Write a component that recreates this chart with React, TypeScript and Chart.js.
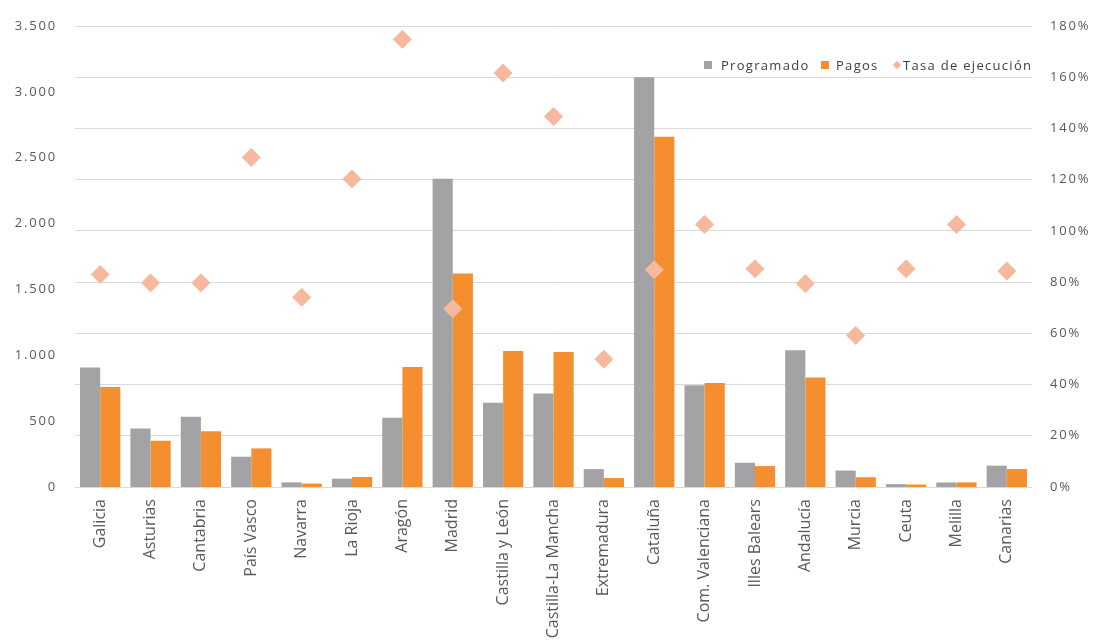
import React, { useEffect, useRef } from "react";
import { Chart, registerables } from "chart.js";

Chart.register(...registerables);

// Comunidades autónomas
const regiones = [
  "Galicia",
  "Asturias",
  "Cantabria",
  "País Vasco",
  "Navarra",
  "La Rioja",
  "Aragón",
  "Madrid",
  "Castilla y León",
  "Castilla-La Mancha",
  "Extremadura",
  "Cataluña",
  "Com. Valenciana",
  "Illes Balears",
  "Andalucía",
  "Murcia",
  "Ceuta",
  "Melilla",
  "Canarias",
];

// Importes programados y pagados
const programado = [907, 445, 533, 230, 35, 63, 525, 2340, 639, 710, 136, 3110, 773, 184, 1038, 125, 22, 34, 162];
const pagos = [760, 351, 424, 293, 26, 76, 911, 1620, 1033, 1025, 68, 2659, 790, 159, 831, 74, 19, 35, 137];

// Tasa de ejecución (%)
const tasa = [83.0, 79.7, 79.7, 128.7, 74.1, 120.3, 174.8, 69.6, 161.6, 144.7, 49.9, 84.8, 102.5, 85.2, 79.4, 59.2, 85.2, 102.5, 84.3];

// Axis ranges
const importeMax = 3500;
const importeStep = 500;
const tasaMax = 180;
const tasaStep = 20;

const GREY = "#a3a3a5";
const ORANGE = "#f58e2f";
const PEACH = "#f7b99e";
const TEXT = "#595959";

const miles = (v: number | string) => String(v).replace(/\B(?=(\d{3})+(?!\d))/g, ".");

// Wider tracking for the horizontal axis numbers only
const tickSpacing = {
  id: "tickSpacing",
  beforeDraw(chart: any) {
    chart.ctx.letterSpacing = "1.8px";
  },
  beforeDatasetsDraw(chart: any) {
    chart.ctx.letterSpacing = "0px";
  },
};

export default function App() {
  const ref = useRef<HTMLCanvasElement | null>(null);

  useEffect(() => {
    if (!ref.current) return;
    const chart = new Chart(ref.current, {
      type: "bar",
      data: {
        labels: regiones,
        datasets: [
          {
            type: "line",
            label: "Tasa de ejecución",
            data: tasa,
            yAxisID: "y1",
            showLine: false,
            pointStyle: "rectRot",
            pointRadius: 9,
            pointBackgroundColor: PEACH,
            pointBorderColor: PEACH,
            pointBorderWidth: 1,
            order: 0,
          } as any,
          {
            label: "Programado",
            data: programado,
            backgroundColor: GREY,
            yAxisID: "y",
            order: 1,
            categoryPercentage: 0.8,
            barPercentage: 1.0,
          },
          {
            label: "Pagos",
            data: pagos,
            backgroundColor: ORANGE,
            yAxisID: "y",
            order: 2,
            categoryPercentage: 0.8,
            barPercentage: 1.0,
          },
        ],
      },
      options: {
        responsive: false,
        animation: false,
        layout: { padding: { top: 26, left: 0, right: 0, bottom: 0 }, autoPadding: false } as any,
        plugins: {
          legend: { display: false },
          tooltip: { enabled: false },
        },
        scales: {
          x: {
            grid: { display: false, drawTicks: false },
            border: { display: false },
            ticks: {
              color: TEXT,
              font: { family: "'Open Sans'", size: 16 },
              minRotation: 90,
              maxRotation: 90,
              autoSkip: false,
              padding: 12,
              z: 1,
            },
            afterFit: (s: any) => {
              s.height = 156;
            },
          },
          y: {
            position: "left",
            min: 0,
            max: importeMax,
            grid: { display: false, drawTicks: false },
            border: { display: false },
            ticks: {
              stepSize: importeStep,
              color: TEXT,
              font: { family: "'Open Sans'", size: 13 },
              padding: 18,
              callback: (v: any) => miles(v),
            },
            afterFit: (s: any) => {
              s.width = 75;
            },
          },
          y1: {
            position: "right",
            min: 0,
            max: tasaMax,
            grid: { color: "#d9d9d9", lineWidth: 1, drawTicks: false },
            border: { display: false },
            ticks: {
              stepSize: tasaStep,
              color: TEXT,
              font: { family: "'Open Sans'", size: 13 },
              padding: 18,
              callback: (v: any) => `${v}%`,
            },
            afterFit: (s: any) => {
              s.width = 64;
            },
          },
        },
      },
      plugins: [tickSpacing],
    });
    return () => chart.destroy();
  }, []);

  const legendText: React.CSSProperties = {
    position: "absolute",
    top: 56,
    lineHeight: "18px",
    fontFamily: "'Open Sans'",
    fontSize: 13,
    letterSpacing: "1.3px",
    color: "#404040",
    whiteSpace: "nowrap",
  };
  const swatch = (left: number, color: string): React.CSSProperties => ({
    position: "absolute",
    left,
    top: 61,
    width: 8,
    height: 8,
    background: color,
  });

  return (
    <div style={{ position: "fixed", left: 0, top: 0, width: 1096, height: 643, background: "#fff" }}>
      <canvas ref={ref} width={1096} height={643} style={{ display: "block" }} />
      <span style={swatch(704, GREY)} />
      <span style={{ ...legendText, left: 721 }}>Programado</span>
      <span style={swatch(821, ORANGE)} />
      <span style={{ ...legendText, left: 836 }}>Pagos</span>
      <span
        style={{
          position: "absolute",
          left: 894,
          top: 62,
          width: 6,
          height: 6,
          background: PEACH,
          transform: "rotate(45deg)",
        }}
      />
      <span style={{ ...legendText, left: 903 }}>Tasa de ejecución</span>
    </div>
  );
}
